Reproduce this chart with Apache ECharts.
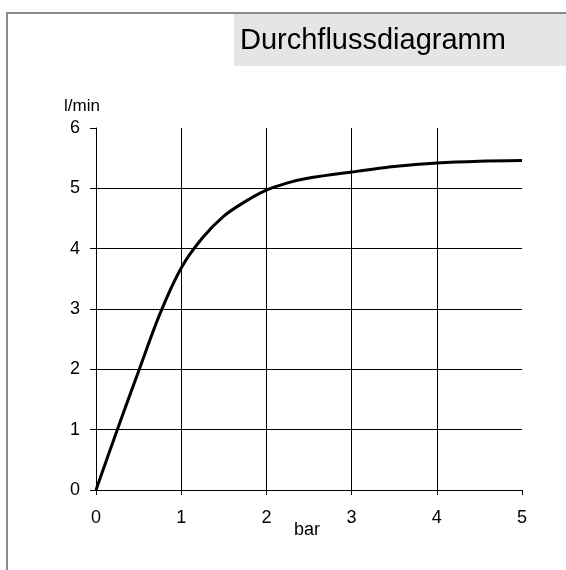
<!DOCTYPE html>
<html>
<head>
<meta charset="utf-8">
<script src="https://cdn.jsdelivr.net/npm/echarts@6/dist/echarts.min.js"></script>
<style>
  html, body { margin: 0; padding: 0; background: #fff; }
  #main { width: 566px; height: 570px; }
</style>
</head>
<body>
<div id="main"></div>
<script>
// Druck (bar) gegen Durchfluss (l/min)
const pressure = [0, 0.25, 0.5, 0.75, 1, 1.25, 1.5, 1.75, 2, 2.25, 2.5, 3, 3.5, 4, 4.5, 5];
const flow = [0, 1.0, 1.97, 2.92, 3.68, 4.18, 4.54, 4.78, 4.97, 5.09, 5.17, 5.27, 5.36, 5.42, 5.45, 5.46];

const chartTitle = 'Durchflussdiagramm';
const xName = 'bar';
const yName = 'l/min';

const font = 'Arial, "Liberation Sans", sans-serif';

let myChart = echarts.init(document.getElementById('main'));

let option = {
  animation: false,
  title: {
    text: chartTitle,
    left: 240,
    top: 26,
    padding: 0,
    textStyle: { fontFamily: font, fontSize: 29, fontWeight: 'normal', color: '#000' }
  },
  graphic: [
    // grauer Kasten hinter dem Titel
    { type: 'rect', z: -1, shape: { x: 234, y: 14, width: 332, height: 52 }, style: { fill: '#e5e5e5' } },
    // Rahmen oben und links
    { type: 'polyline', z: 10, shape: { points: [[7, 570], [7, 13], [566, 13]] }, style: { stroke: '#8a8a8a', lineWidth: 2, fill: null } },
    { type: 'text', left: 64, top: 98, style: { text: yName, font: '17px ' + font, fill: '#000' } }
  ],
  grid: { left: 96, right: 44, top: 128, bottom: 80 },
  xAxis: {
    type: 'value',
    min: 0,
    max: 5,
    interval: 1,
    name: xName,
    nameLocation: 'middle',
    nameGap: 31,
    nameMoveOverlap: false,
    nameTextStyle: { fontFamily: font, fontSize: 18, color: '#000', padding: [0, 4, 0, 0] },
    axisLine: { show: true, lineStyle: { color: '#000', width: 1 } },
    axisTick: { show: true, length: 5, lineStyle: { color: '#000' } },
    axisLabel: { margin: 19, fontFamily: font, fontSize: 18, color: '#000' },
    splitLine: { show: true, showMaxLine: false, lineStyle: { color: '#000', width: 1 } }
  },
  yAxis: {
    type: 'value',
    min: 0,
    max: 6,
    interval: 1,
    axisLine: { show: true, lineStyle: { color: '#000', width: 1 } },
    axisTick: { show: true, length: 6, lineStyle: { color: '#000' } },
    axisLabel: { margin: 16, fontFamily: font, fontSize: 18, color: '#000' },
    splitLine: { show: true, showMaxLine: false, lineStyle: { color: '#000', width: 1 } }
  },
  series: [
    {
      type: 'line',
      data: pressure.map((p, i) => [p, flow[i]]),
      smooth: 0.3,
      showSymbol: false,
      lineStyle: { color: '#000', width: 3 }
    }
  ]
};

myChart.setOption(option);
</script>
</body>
</html>
